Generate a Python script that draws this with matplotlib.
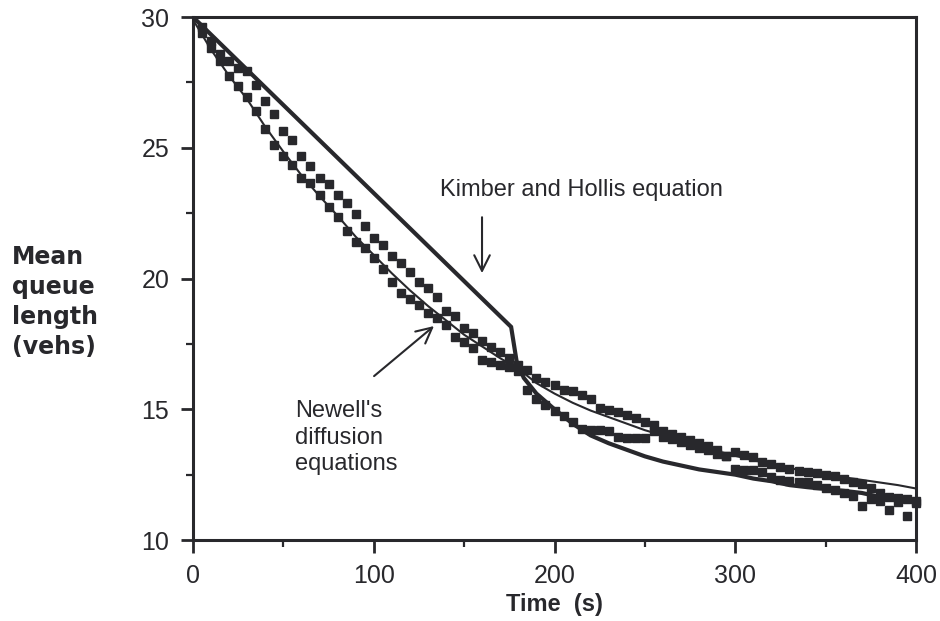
import numpy as np
import matplotlib
matplotlib.use("Agg")
import matplotlib.pyplot as plt
from matplotlib.ticker import MultipleLocator

plt.rcParams["font.family"] = ["Liberation Sans", "DejaVu Sans"]

INK = "#28282c"

# # # # # # # # # # # # # # # # # # # # # # # # # # # # # # # # # # # # # # # #
# DATA
# # # # # # # # # # # # # # # # # # # # # # # # # # # # # # # # # # # # # # # #

# Kimber and Hollis equation (thick line)
kh_time = [0, 176, 179, 183, 190, 200, 210, 220, 230, 240, 250, 260, 270, 280,
           290, 300, 310, 320, 330, 340, 350, 360, 370, 380, 390, 400]
kh_queue = [30.0, 18.15, 16.85, 16.2, 15.6, 15.0, 14.45, 14.0, 13.7, 13.45, 13.2,
            13.0, 12.85, 12.7, 12.6, 12.5, 12.35, 12.25, 12.1, 12.02, 11.95,
            11.88, 11.8, 11.65, 11.55, 11.45]

# Newell's diffusion equations (thin line)
nw_time = [0, 10, 20, 30, 40, 50, 60, 70, 80, 90, 100, 110, 120, 130, 140, 150,
           160, 170, 180, 190, 200, 210, 220, 230, 240, 250, 260, 270, 280, 290,
           300, 310, 320, 330, 340, 350, 360, 370, 380, 390, 400]
nw_queue = [29.9, 28.75, 27.75, 26.85, 25.8, 24.85, 23.95, 23.15, 22.4, 21.6,
            20.9, 20.2, 19.55, 18.95, 18.4, 17.85, 17.4, 16.95, 16.55, 16.0,
            15.6, 15.25, 14.95, 14.7, 14.45, 14.2, 14.0, 13.8, 13.6, 13.4,
            13.22, 13.05, 12.9, 12.75, 12.62, 12.5, 12.4, 12.3, 12.2, 12.1, 11.97]

# simulated mean queue (square markers), sampled every 5 s
sim_time = [5, 10, 15, 20, 25, 30, 35, 40, 45, 50, 55, 60, 65, 70, 75, 80,
            85, 90, 95, 100, 105, 110, 115, 120, 125, 130, 135, 140, 145, 150,
            155, 160, 165, 170, 175, 180, 185, 190, 195, 200, 205, 210, 215, 220,
            225, 230, 235, 240, 245, 250, 255, 260, 265, 270, 275, 280, 285, 290,
            295, 300, 305, 310, 315, 320, 325, 330, 335, 340, 345, 350, 355, 360,
            365, 370, 375, 380, 385, 390, 395, 400]
sim_lower = [29.4, 28.8, 28.3, 27.75, 27.35, 26.95, 26.4, 25.7, 25.1, 24.7,
             24.35, 23.85, 23.65, 23.2, 22.75, 22.35, 21.8, 21.4, 21.15, 20.8,
             20.35, 19.85, 19.45, 19.2, 19.0, 18.7, 18.5, 18.22, 17.76, 17.57,
             17.34, 16.9, 16.8, 16.7, 16.6, 16.45, 15.75, 15.4, 15.15, 14.95,
             14.75, 14.5, 14.25, 14.2, 14.2, 14.15, 13.95, 13.9, 13.92, 13.9,
             14.15, 13.95, 13.85, 13.75, 13.65, 13.5, 13.45, 13.3, 13.2, 12.7,
             12.68, 12.68, 12.6, 12.42, 12.3, 12.25, 12.2, 12.2, 12.1, 12.0,
             11.9, 11.8, 11.7, 11.3, 11.55, 11.5, 11.15, 11.45, 10.9, 11.4]
sim_upper = [29.6, 29.1, 28.6, 28.3, 28.05, 27.95, 27.4, 26.8, 26.3, 25.65,
             25.3, 24.7, 24.3, 23.85, 23.6, 23.2, 22.9, 22.45, 22.0, 21.55,
             21.3, 20.85, 20.6, 20.25, 19.85, 19.65, 19.3, 18.75, 18.55, 18.12,
             17.92, 17.6, 17.4, 17.2, 16.95, 16.7, 16.5, 16.2, 16.05, 15.93,
             15.75, 15.68, 15.55, 15.4, 15.05, 14.97, 14.9, 14.8, 14.65, 14.5,
             14.4, 14.15, 14.05, 13.95, 13.82, 13.7, 13.6, 13.45, 13.2, 13.37,
             13.25, 13.17, 13.0, 12.9, 12.8, 12.7, 12.65, 12.6, 12.55, 12.5,
             12.45, 12.35, 12.2, 12.15, 12.0, 11.8, 11.65, 11.6, 11.55, 11.5]

x_ticks = [0, 100, 200, 300, 400]
y_ticks = [10, 15, 20, 25, 30]

# # # # # # # # # # # # # # # # # # # # # # # # # # # # # # # # # # # # # # # #
# PLOT
# # # # # # # # # # # # # # # # # # # # # # # # # # # # # # # # # # # # # # # #

fig = plt.figure(figsize=(9.4, 6.21), dpi=100)
ax = fig.add_axes([0.2053, 0.1304, 0.7692, 0.8422])

ax.plot(sim_time, sim_lower, "s", color=INK, markersize=6.3, clip_on=False)
ax.plot(sim_time, sim_upper, "s", color=INK, markersize=6.3, clip_on=False)
ax.plot(nw_time, nw_queue, color=INK, lw=1.5)
ax.plot(kh_time, kh_queue, color=INK, lw=3, solid_joinstyle="miter")

ax.set_xlim(0, 400)
ax.set_ylim(10, 30)
ax.set_xticks(x_ticks)
ax.set_yticks(y_ticks)
ax.xaxis.set_minor_locator(MultipleLocator(50))
ax.yaxis.set_minor_locator(MultipleLocator(2.5))
ax.tick_params(which="major", direction="out", length=9, width=2,
               color=INK, labelcolor=INK, labelsize=18, pad=8)
ax.tick_params(which="minor", direction="out", length=5, width=1.6, color=INK)
ax.tick_params(axis="y", which="both", right=False)
ax.tick_params(axis="x", which="both", top=False)
for s in ax.spines.values():
    s.set_linewidth(2.2)
    s.set_color(INK)

ax.set_xlabel("Time  (s)", fontsize=17, fontweight="bold", color=INK, labelpad=4)
fig.text(0.013, 0.514, "Mean\nqueue\nlength\n(vehs)", family="DejaVu Sans",
         fontsize=17, fontweight="bold", color=INK, ha="left", va="center",
         linespacing=1.32)

ax.text(136.7, 23.38, "Kimber and Hollis equation", fontsize=17, color=INK,
        va="center", ha="left")
ax.annotate("", xy=(159.9, 20.1), xytext=(159.9, 22.45),
            arrowprops=dict(arrowstyle="->", lw=1.5, color=INK, mutation_scale=28))

ax.text(56.4, 13.92, "Newell's\ndiffusion\nequations", fontsize=17, color=INK,
        va="center", ha="left", linespacing=1.25)
ax.annotate("", xy=(134.5, 18.25), xytext=(99, 16.2),
            arrowprops=dict(arrowstyle="->", lw=1.5, color=INK, mutation_scale=28))

fig.savefig("out.png", dpi=100, facecolor="white")
